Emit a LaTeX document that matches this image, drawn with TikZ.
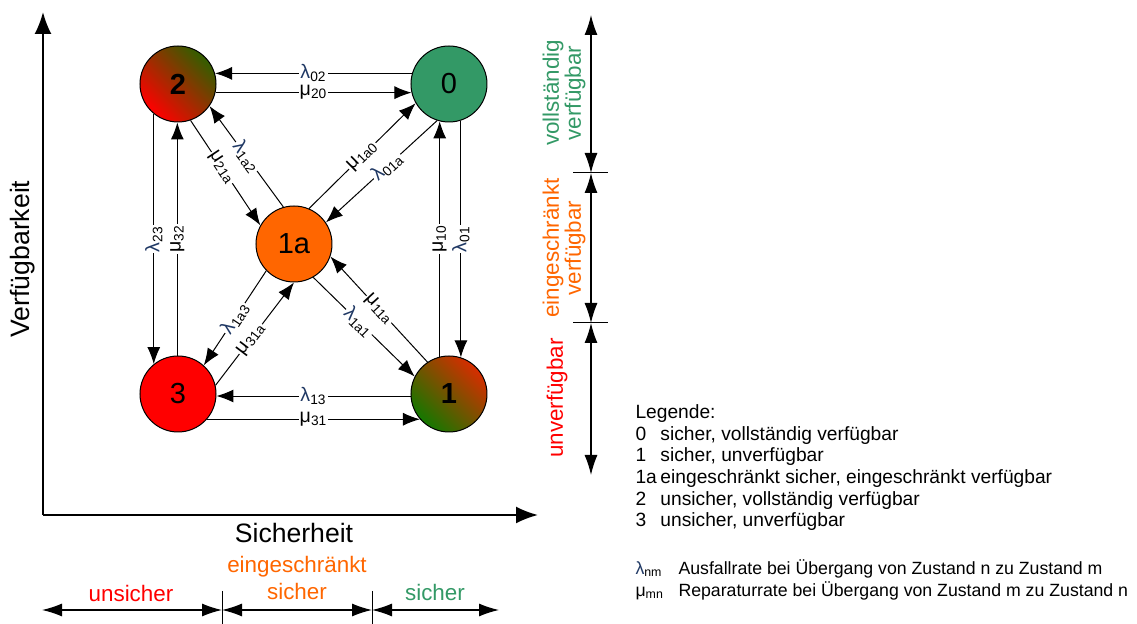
\documentclass[tikz,border=0pt]{standalone}
\usepackage{fontspec}
\setmainfont{Liberation Sans}
\usetikzlibrary{arrows.meta}

\definecolor{lamblau}{RGB}{31,56,100}
\definecolor{gruen}{RGB}{51,153,102}
\definecolor{orangeton}{RGB}{255,102,0}
\definecolor{rot}{RGB}{255,0,0}

\newcommand{\lam}[1]{\textcolor{lamblau}{λ}\textsubscript{#1}}
\newcommand{\mue}[1]{μ\textsubscript{#1}}

\tikzset{
  zustand/.style={circle,draw,line width=0.5pt,minimum size=38pt,inner sep=0pt,font=\fontsize{14.5}{15}\selectfont},
  rate/.style={fill=white,inner sep=0.5pt,font=\fontsize{9.8}{10}\selectfont},
  achse/.style={-{Latex[length=11pt,width=8.5pt]},line width=1pt},
  bemassung/.style={{Latex[length=10pt,width=6.5pt]}-{Latex[length=10pt,width=6.5pt]},line width=0.6pt},
  bereich/.style={font=\fontsize{11.2}{13.5}\selectfont,align=center},
  bereichhoch/.style={font=\fontsize{11.2}{11}\selectfont,align=center,rotate=90}
}

\begin{document}
\begin{tikzpicture}[->,>={Latex[length=8.5pt,width=6.5pt]},line width=0.5pt,x=0.5pt,y=-0.5pt]
\useasboundingbox (0,0) rectangle (1137,624);
\matrix[anchor=north west,inner sep=0pt,row sep=41.5pt,column sep=19.5pt] at (139,45) {
  \node[zustand,top color=rot,middle color={rgb,255:red,200;green,25;blue,0},bottom color={rgb,255:red,50;green,95;blue,0},shading angle=135] (z2) {\textbf{2}}; &
  &[19.5pt]
  \node[zustand,fill=gruen] (z0) {0}; \\
  &
  \node[zustand,fill=orangeton] (z1a) {1a}; &[19.5pt] \\[-5pt]
  \node[zustand,fill=rot] (z3) {3}; &
  &[19.5pt]
  \node[zustand,top color={rgb,255:red,20;green,120;blue,0},middle color={rgb,255:red,110;green,85;blue,0},bottom color={rgb,255:red,215;green,45;blue,0},shading angle=135] (z1) {\textbf{1}}; \\
};
\path (z0.164) edge node[rate,sloped] {\lam{02}} (z2.16);
\path (z2.-13) edge node[rate,sloped] {\mue{20}} (z0.193);
\path (z1.183) edge node[rate,sloped] {\lam{13}} (z3.-3);
\path (z3.-41) edge node[rate,sloped] {\mue{31}} (z1.221);
\path (z2.231) edge node[rate,rotate=90] {\lam{23}} (z3.129);
\path (z3.91) edge node[rate,rotate=90] {\mue{32}} (z2.269);
\path (z1.104) edge node[rate,rotate=90] {\mue{10}} (z0.256);
\path (z0.288) edge node[rate,rotate=90] {\lam{01}} (z1.72);
\path (z1a.106) edge node[rate,sloped] {\lam{1a2}} (z2.325);
\path (z2.289) edge node[rate,sloped,pos=0.45] {\mue{21a}} (z1a.151);
\path (z1a.67) edge node[rate,sloped] {\mue{1a0}} (z0.210);
\path (z0.252) edge node[rate,sloped,pos=0.45] {\lam{01a}} (z1a.34);
\path (z1a.224) edge node[rate,sloped] {\lam{1a3}} (z3.48);
\path (z3.13) edge node[rate,sloped,pos=0.45] {\mue{31a}} (z1a.270);
\path (z1.124) edge node[rate,sloped] {\mue{11a}} (z1a.341);
\path (z1a.300) edge node[rate,sloped,pos=0.45] {\lam{1a1}} (z1.153);

\coordinate (ursprung) at (43,515);
\coordinate (yspitze) at (43,12);
\coordinate (xspitze) at (538,515);
\draw[achse] (ursprung) -- (yspitze);
\draw[achse] (ursprung) -- (xspitze);
\node[font=\fontsize{13.3}{16}\selectfont,rotate=90] (verfuegbarkeit) at (23,259) {Verfügbarkeit};
\node[font=\fontsize{13.3}{16}\selectfont] (sicherheit) at (294,533) {Sicherheit};

\coordinate (v0) at (591,15);
\coordinate (v1) at (591,173);
\coordinate (v2) at (591,323);
\coordinate (v3) at (591,475);
\draw[bemassung] (v0) -- (v1);
\draw[bemassung] (v1) -- (v2);
\draw[bemassung] (v2) -- (v3);
\draw[-] (v1) ++(-18,0) -- ++(35,0);
\draw[-] (v2) ++(-18,0) -- ++(35,0);
\node[bereichhoch,text=gruen] (vollverf) at (564,93) {vollständig\\verfügbar};
\node[bereichhoch,text=orangeton] (eingverf) at (564,248) {eingeschränkt\\verfügbar};
\node[bereichhoch,text=rot] (unverf) at (557,398) {unverfügbar};

\coordinate (h0) at (42,610);
\coordinate (h1) at (222,610);
\coordinate (h2) at (372,610);
\coordinate (h3) at (499,610);
\draw[bemassung] (h0) -- (h1);
\draw[bemassung] (h1) -- (h2);
\draw[bemassung] (h2) -- (h3);
\draw[-] (222,591) -- (222,624);
\draw[-] (372,591) -- (372,624);
\node[bereich,text=rot] (unsich) at (131,593) {unsicher};
\node[bereich,text=orangeton] (eingsich) at (297,578) {eingeschränkt\\sicher};
\node[bereich,text=gruen] (sich) at (435,592) {sicher};

\node[anchor=north west,inner sep=0pt,align=left,font=\fontsize{9.6}{10.85}\selectfont] (legende) at (635,404) {Legende:\\
\makebox[12.5pt][l]{0}sicher, vollständig verfügbar\\
\makebox[12.5pt][l]{1}sicher, unverfügbar\\
\makebox[12.5pt][l]{1a}eingeschränkt sicher, eingeschränkt verfügbar\\
\makebox[12.5pt][l]{2}unsicher, vollständig verfügbar\\
\makebox[12.5pt][l]{3}unsicher, unverfügbar\\[13pt]
\fontsize{8.85}{10.85}\selectfont\makebox[21.5pt][l]{\lam{nm}}Ausfallrate bei Übergang von Zustand n zu Zustand m\\
\fontsize{8.85}{10.85}\selectfont\makebox[21.5pt][l]{\mue{mn}}Reparaturrate bei Übergang von Zustand m zu Zustand n};
\end{tikzpicture}
\end{document}
